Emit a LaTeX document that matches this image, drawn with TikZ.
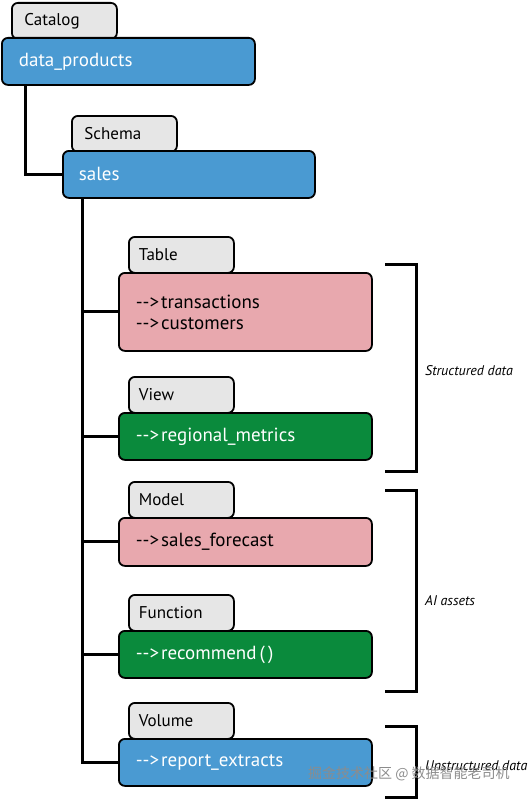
\documentclass[tikz,border=0pt]{standalone}
\usepackage{fontspec}
\setmainfont{PT Sans}
\newfontfamily\cjkfont{Noto Sans CJK SC}
\usetikzlibrary{calc}
\definecolor{cblue}{HTML}{4A9AD2}
\definecolor{cpink}{HTML}{E8A8AE}
\definecolor{cgreen}{HTML}{0A8A3C}
\definecolor{ctab}{HTML}{E6E6E6}
\newcommand{\arr}{-{}->\hspace{2pt}}
\tikzset{
  basebox/.style={draw=black, line width=1.8pt, rounded corners=6pt, anchor=north west,
    inner sep=0pt, align=left, font=\fontsize{19}{22}\selectfont},
  tabbox/.style={basebox, fill=ctab, minimum width=105pt, minimum height=36pt,
    text width=85pt, font=\fontsize{17}{20}\selectfont},
  bluebox/.style={basebox, fill=cblue, text=white},
  pinkbox/.style={basebox, fill=cpink, text=black},
  greenbox/.style={basebox, fill=cgreen, text=white},
  conn/.style={line width=3pt, line cap=rect},
  brk/.style={line width=3pt},
  brklabel/.style={anchor=west, font=\itshape\fontsize{14}{16}\selectfont, inner sep=0pt},
}
\begin{document}
\begin{tikzpicture}[x=1pt,y=-1pt]
\useasboundingbox (0,0) rectangle (532,800);
% Catalog
\node[tabbox, text width=80pt] (tcat) at (11,2) {\raisebox{-7pt}{Catalog}};
\node[bluebox, minimum width=253pt, minimum height=47pt, text width=219pt] (dp) at (1,37) {data\_products};
% Schema
\node[tabbox, text width=80pt] (tsch) at (71,115) {\raisebox{-7pt}{Schema}};
\node[bluebox, minimum width=252pt, minimum height=47pt, text width=220pt] (sales) at (62,150) {sales};
% Table
\node[tabbox] (ttbl) at (128,236) {\raisebox{-7pt}{Table}};
\node[pinkbox, minimum width=253pt, minimum height=78pt, text width=219pt] (tbl) at (118,272) {\arr transactions\\[-1pt]\arr customers};
% View
\node[tabbox] (tview) at (128,376) {\raisebox{-7pt}{View}};
\node[greenbox, minimum width=253pt, minimum height=47pt, text width=219pt] (view) at (118,412) {\arr regional\_metrics};
% Model
\node[tabbox] (tmod) at (128,481) {\raisebox{-7pt}{Model}};
\node[pinkbox, minimum width=253pt, minimum height=48pt, text width=219pt] (mod) at (118,517) {\arr sales\_forecast};
% Function
\node[tabbox] (tfun) at (128,594) {\raisebox{-7pt}{Function}};
\node[greenbox, minimum width=253pt, minimum height=47pt, text width=219pt] (fun) at (118,630) {\arr recommend\,(\,)};
% Volume
\node[tabbox] (tvol) at (128,702) {\raisebox{-7pt}{Volume}};
\node[bluebox, minimum width=253pt, minimum height=47pt, text width=219pt] (vol) at (118,738) {\arr report\_extracts};
% connectors
\coordinate (c1) at ($(dp.south west)+(24,0)$);
\draw[conn] (c1) |- (sales.west);
\coordinate (trunk) at ($(sales.south west)+(20,0)$);
\draw[conn] (trunk) |- (vol.west);
\foreach \n in {tbl,view,mod,fun}{
  \draw[conn] (trunk |- \n.west) -- (\n.west);
}
% brackets
\draw[brk] (385,264) -| (416,471) -- (385,471);
\node[brklabel] (lsd) at (425,371) {Structured data};
\draw[brk] (385,490) -| (416,691) -- (385,691);
\node[brklabel] (lai) at (425,601) {AI assets};
\draw[brk] (385,726) -| (416,797) -- (385,797);
\node[brklabel] (lud) at (425,766) {Unstructured data};
% watermark
\node[anchor=west, inner sep=0pt, text=black!45, font=\cjkfont\fontsize{14}{16}\selectfont] (wm) at (308,774) {掘金技术社区 @ 数据智能老司机};
\end{tikzpicture}
\end{document}
